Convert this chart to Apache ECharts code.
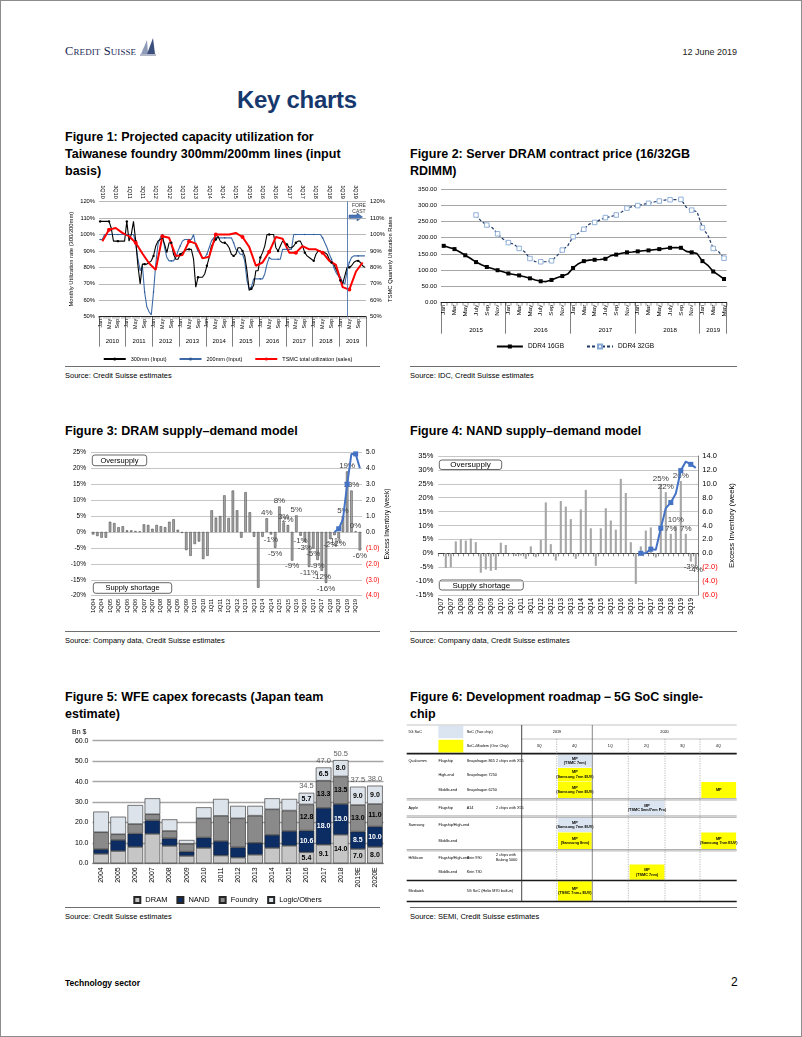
<!DOCTYPE html>
<html><head><meta charset="utf-8">
<script src="https://cdn.jsdelivr.net/npm/echarts@6/dist/echarts.min.js"></script>
<style>
html,body{margin:0;padding:0;background:#fff;}
#page{position:relative;width:802px;height:1037px;box-shadow:inset 0 0 0 1px #8c8c8c;overflow:hidden;font-family:"Liberation Sans",Arial,sans-serif;color:#000;}
.abs{position:absolute;white-space:nowrap;}
.ftitle{position:absolute;font-weight:bold;font-size:12.5px;line-height:17px;color:#000;white-space:nowrap;}
.src{position:absolute;font-size:7.5px;color:#000;white-space:nowrap;}
.rule{position:absolute;height:1px;background:#6e6e6e;}
.chart{position:absolute;}
</style></head>
<body><div id="page">
<div class="abs" style="left:65px;top:44px;font-family:'Liberation Serif',serif;font-size:12.5px;color:#1b2a56;font-variant:small-caps;letter-spacing:0.1px;">Credit Suisse</div>
<svg class="abs" style="left:138px;top:37px" width="20" height="20" viewBox="0 0 20 20">
<path d="M3,17 L9,3 L10,17 Z" fill="#8d9bb8"/><path d="M9,17 L15,1 L17,17 Z" fill="#3c4f7c"/><path d="M2,18 L18,18" stroke="#3c4f7c" stroke-width="0.8"/>
</svg>
<div class="abs" style="right:65px;top:47px;font-size:9px;color:#222;">12 June 2019</div>
<div class="abs" style="left:237px;top:86px;font-size:24px;font-weight:bold;color:#16386d;letter-spacing:-0.3px;">Key charts</div>

<div class="ftitle" style="left:65px;top:129px;">Figure 1: Projected capacity utilization for<br>Taiwanese foundry 300mm/200mm lines (input<br>basis)</div>
<div class="ftitle" style="left:410px;top:146px;">Figure 2: Server DRAM contract price (16/32GB<br>RDIMM)</div>
<div class="ftitle" style="left:65px;top:423px;">Figure 3: DRAM supply–demand model</div>
<div class="ftitle" style="left:410px;top:423px;">Figure 4: NAND supply–demand model</div>
<div class="ftitle" style="left:65px;top:689px;">Figure 5: WFE capex forecasts (Japan team<br>estimate)</div>
<div class="ftitle" style="left:410px;top:689px;">Figure 6: Development roadmap－5G SoC single-<br>chip</div>

<div id="c1" class="chart" style="left:60px;top:180px;width:335px;height:185px;"></div>
<div id="c2" class="chart" style="left:405px;top:180px;width:340px;height:185px;"></div>
<div id="c3" class="chart" style="left:60px;top:445px;width:340px;height:185px;"></div>
<div id="c4" class="chart" style="left:405px;top:445px;width:340px;height:185px;"></div>
<div id="c5" class="chart" style="left:60px;top:728px;width:335px;height:178px;"></div>
<div id="c6" class="chart" style="left:405px;top:723px;width:335px;height:182px;"></div>

<div class="rule" style="left:65px;top:366px;width:315px;"></div>
<div class="rule" style="left:410px;top:366px;width:327px;"></div>
<div class="src" style="left:65px;top:371px;">Source: Credit Suisse estimates</div>
<div class="src" style="left:410px;top:371px;">Source: IDC, Credit Suisse estimates</div>
<div class="rule" style="left:65px;top:631px;width:315px;"></div>
<div class="rule" style="left:410px;top:631px;width:327px;"></div>
<div class="src" style="left:65px;top:636px;">Source: Company data, Credit Suisse estimates</div>
<div class="src" style="left:410px;top:636px;">Source: Company data, Credit Suisse estimates</div>
<div class="rule" style="left:65px;top:907px;width:315px;"></div>
<div class="rule" style="left:410px;top:907px;width:327px;"></div>
<div class="src" style="left:65px;top:912px;">Source: Credit Suisse estimates</div>
<div class="src" style="left:410px;top:912px;">Source: SEMI, Credit Suisse estimates</div>

<div class="abs" style="left:65px;top:978px;font-size:8.5px;font-weight:bold;">Technology sector</div>
<div class="abs" style="left:731px;top:975px;font-size:12px;">2</div>
</div>
<script>
const FONT = '"Liberation Sans", Arial, Helvetica, sans-serif';

// ================= DATA =================
// Figure 1
const fig1Years = ['2010','2011','2012','2013','2014','2015','2016','2017','2018','2019'];
const fig1MonthNames = ['Jan','Feb','Mar','Apr','May','Jun','Jul','Aug','Sep','Oct','Nov','Dec'];
const fig1QuarterNames = ['1Q','2Q','3Q','4Q'];
const util300mm = [
 108,108,108,108,108,104,96,96,96,96,96,96,
 108,96,100,108,96,81,70,82,82,82,83,84,
 87,93,96,97,98,94,89,95,95,88,85,85,
 88,89,90,91,91,91,85,68,74,74,74,76,
 81,86,93,95,97,99,96,95,95,94,92,88,
 87,88,92,92,90,87,78,66,67,69,78,78,
 86,89,93,100,100,100,100,92,90,93,96,95,
 94,92,92,93,95,96,96,93,89,87,86,85,
 84,88,90,90,89,89,88,85,83,82,79,76,
 72,70,75,80,80,81,83,84,84,83,81,80];
const util200mm = [
 97,97,100,100,100,100,100,100,100,100,100,100,
 100,100,100,100,95,85,78,81,65,56,53,51,
 65,82,94,98,100,92,86,84,84,84,86,90,
 93,96,97,97,97,97,100,93,90,88,86,86,
 88,92,96,98,98,98,98,98,98,98,98,98,
 95,91,90,88,88,84,72,67,68,73,73,73,
 73,73,76,82,86,85,85,85,85,85,91,91,
 91,91,91,100,100,100,100,100,100,100,100,100,
 100,100,100,100,98,95,92,88,85,80,77,75,
 74,71,70,78,83,86,87,87,87,87,87,87];
const tsmcQuarterly = [
 96,103,104,101, 99,95,88.5,82.5, 78.5,99,98,87, 87.5,96,94.5,85.5, 86.5,100,100,100,
 101,98.5,92.5,81, 83,89.5,98.5,97.5, 89,89,93,91, 91,89,84,81.5, 68,66.5,77.5,83];
const forecastStartMonth = 'Apr 2019';

// Figure 2
const fig2Years = ['2015','2016','2017','2018','2019'];
const fig2MonthNames = ['Jan','Feb','Mar','Apr','May','Jun','July','Aug','Sep','Oct','Nov','Dec'];
const ddr4_16gb = [
 175,170,165,156,146,136,125,117,110,105,100,95,
 90,87,84,80,75,70,66,65,70,77,82,88,
 107,120,128,131,132,133,135,145,148,152,155,156,
 158,160,161,163,165,167,169,170,169,158,155,151,
 128,115,96,85,73];
const ddr4_32gb = [
 null,null,null,null,null,null,270,250,239,231,212,196,
 185,180,167,157,136,126,126,126,129,144,162,175,
 203,214,226,242,247,255,262,265,270,279,291,296,
 299,303,306,310,313,316,317,317,318,294,285,280,
 231,208,167,157,137];

// Figure 3
const fig3Years = ['04','05','06','07','08','09','10','11','12','13','14','15','16','17','18','19'];
const dramSupplyDemand = [
 -0.8,-1.3,-1.8,-1.8, 3.2,2.8,1.5,1.8, 0.5,0.5,0.3,0.2, 2.4,2.2,1.0,2.2,
 1.8,1.5,3.2,4.0, 0.7,-0.3,-5.7,-7.5, -3.8,-3.0,-8.5,-7.5, 6.8,4.5,5.0,11.5,
 4.4,13.0,6.8,-1.8, 12.5,6.2,-1.5,-17.5, -1.5,4.3,-0.8,-5.0, 8.0,3.0,2.2,-9.0,
 5.2,-1.2,-3.2,-11.0, -5.2,-8.8,-12.2,-16.0, -2.2,-1.0,-2.0,5.0, 19.0,13.0,0.2,-5.8];
const dramExcessInventory = [
 null,null,null,null,null,null,null,null,null,null,null,null,null,null,null,null,
 null,null,null,null,null,null,null,null,null,null,null,null,null,null,null,null,
 null,null,null,null,null,null,null,null,null,null,null,null,null,null,null,null,
 null,null,null,null,null,null,null,null,null,0.0,0.2,0.8,3.0,4.9,4.9,4.0];
const dramLabelFrom = 41;

// Figure 4
const fig4Years = ['07','08','09','10','11','12','13','14','15','16','17','18','19'];
const nandSupplyDemand = [
 0.0,-5.3,-5.0,4.3, 5.0,4.6,5.3,4.0, -7.0,-5.8,-6.3,-6.0, 3.8,3.0,-0.3,-1.0,
 -0.8,-2.0,2.5,-1.4, 4.8,18.3,3.3,-2.6, 18.8,16.8,12.3,-2.0, 15.8,22.8,9.0,-4.5,
 9.0,16.2,11.8,8.5, 26.8,21.7,4.0,-11.0, 2.5,8.2,9.3,-1.5, 25.0,22.0,7.0,10.0,
 26.0,7.0,-3.0,-4.0];
const nandExcessInventory = [
 null,null,null,null,null,null,null,null,null,null,null,null,null,null,null,null,
 null,null,null,null,null,null,null,null,null,null,null,null,null,null,null,null,
 null,null,null,null,null,null,null,null,0.0,0.0,0.6,0.5,3.6,6.5,7.3,8.6,
 11.9,13.2,12.8,12.3];
const nandLabelFrom = 44;

// Figure 5
const wfeYears = ['2004','2005','2006','2007','2008','2009','2010','2011','2012','2013','2014','2015','2016','2017','2018','2019E','2020E'];
const wfeDram    = [4.6,6.0,8.0,14.4,8.5,3.6,7.5,3.8,2.8,4.2,7.5,8.6,5.4,9.1,14.0,7.0,8.0];
const wfeNand    = [2.3,5.4,6.5,6.6,3.7,2.1,5.1,7.1,5.0,5.8,6.4,7.2,10.6,18.0,15.0,8.5,10.0];
const wfeFoundry = [8.3,2.8,4.7,3.0,3.6,3.8,9.4,12.3,14.2,13.3,12.5,10.0,12.8,13.3,13.5,13.0,11.0];
const wfeLogic   = [10.1,8.6,9.3,7.8,5.7,1.9,5.4,8.3,6.1,4.8,5.4,5.7,5.7,6.5,8.0,9.0,9.0];
const wfeTotals  = [null,null,null,null,null,null,null,null,null,null,null,null,34.5,47.0,50.5,37.5,38.0];
const wfeLabelFrom = 12;

// Figure 6
const roadmapYears = [['2019',0,2],['2020',2,6]];
const roadmapQuarters = ['3Q','4Q','1Q','2Q','3Q','4Q'];
const roadmapKey = [['5G SoC','SoC (Two chip)','two'],['','SoC+Modem (One Chip)','one']];
const roadmapRows = [
 ['Qualcomm','Flagship','Snapdragon 865','2 chips with X55'],
 ['','High-end','Snapdragon 7250',''],
 ['','Middle-end','Snapdragon 6250',''],
 ['Apple','Flagship','A14','2 chips with X55'],
 ['Samsung','Flagship/High-end','',''],
 ['','Middle-end','',''],
 ['HiSilicon','Flagship/High-end','Kirin 990','2 chips with\nBalong 5000'],
 ['','Middle-end','Kirin 730',''],
 ['Mediatek','','5G SoC (Helio M70 built-in)','']];
const roadmapMP = [
 [0,1,'two','MP\n(TSMC 7nm)'],
 [1,1,'one','MP\n(Samsung 7nm EUV)'],
 [2,1,'one','MP\n(Samsung 7nm EUV)'],
 [2,5,'one','MP'],
 [3,3,'two','MP\n(TSMC 5nm/7nm Pro)'],
 [4,1,'two','MP\n(Samsung 7nm EUV)'],
 [5,1,'one','MP\n(Samsung 8nm)'],
 [5,5,'one','MP\n(Samsung 7nm EUV)'],
 [7,3,'one','MP\n(TSMC 7nm)'],
 [8,1,'one','MP\n(TSMC 7nm+ EUV)']];

// ================= HELPERS =================
function init(id){ return echarts.init(document.getElementById(id), null, {renderer:'canvas'}); }
const GRIDLINE = {lineStyle:{color:'#a6a6a6', width:0.8}};

// ================= FIGURE 1 =================
(function(){
  const months = [];
  fig1Years.forEach(y => fig1MonthNames.forEach(m => months.push(m + ' ' + y)));
  const quarters = [];
  fig1Years.forEach(y => fig1QuarterNames.forEach(q => quarters.push(q + y.slice(2))));
  const tsmcMonthly = months.map((_, i) => (i % 3 === 1 ? tsmcQuarterly[(i - 1) / 3] : null));
  const c = init('c1');
  c.setOption({
    animation:false,
    textStyle:{fontFamily:FONT},
    grid:{left:39, right:29, top:21.7, bottom:48.3, containLabel:false, outerBoundsMode:'none'},
    legend:{top:171, left:'center', itemWidth:22, itemHeight:4, itemGap:12,
      textStyle:{fontSize:5.5, color:'#000', fontFamily:FONT},
      data:['300mm (Input)','200mm (Input)','TSMC total utilization (sales)']},
    xAxis:[
      {type:'category', data:months, position:'bottom',
       axisLine:{lineStyle:{color:'#000', width:0.8}},
       axisTick:{show:true, interval:0, length:2, lineStyle:{color:'#000', width:0.4}},
       axisLabel:{interval:3, rotate:90, fontSize:5.5, margin:2, color:'#000', fontFamily:FONT, formatter:v => v.split(' ')[0]},
       splitLine:{show:false}},
      {type:'category', data:quarters, position:'top',
       axisLine:{show:false}, axisTick:{show:false},
       axisLabel:{interval:1, rotate:90, fontSize:5.5, margin:3, color:'#000', fontFamily:FONT}},
      {type:'category', data:fig1Years, position:'bottom',
       axisLine:{show:false},
       axisTick:{show:true, interval:0, length:30, lineStyle:{color:'#000', width:0.5}},
       axisLabel:{interval:0, fontSize:6, margin:22, color:'#000', fontFamily:FONT}}
    ],
    yAxis:[
      {type:'value', min:50, max:120, interval:10,
       axisLabel:{formatter:'{value}%', fontSize:5.8, color:'#000', margin:4, fontFamily:FONT},
       splitLine:GRIDLINE, axisLine:{show:false}, axisTick:{show:false},
       name:'Monthly Utilization rate (300/200mm)', nameLocation:'middle', nameGap:25, nameRotate:90, nameMoveOverlap:false,
       nameTextStyle:{fontSize:5.8, color:'#000', fontFamily:FONT}},
      {type:'value', min:50, max:120, interval:10, position:'right',
       axisLabel:{formatter:'{value}%', fontSize:5.8, color:'#000', margin:4, fontFamily:FONT},
       splitLine:{show:false}, axisLine:{show:false}, axisTick:{show:false},
       name:'TSMC Quarterly Utilization Rates', nameLocation:'middle', nameGap:21, nameRotate:90, nameMoveOverlap:false,
       nameTextStyle:{fontSize:5.8, color:'#000', fontFamily:FONT}}
    ],
    series:[
      {name:'200mm (Input)', type:'line', data:util200mm, symbol:'circle', symbolSize:1.6,
       itemStyle:{color:'#2f5b96'}, lineStyle:{color:'#3d6aa6', width:1.1}},
      {name:'300mm (Input)', type:'line', data:util300mm, symbol:'circle', symbolSize:2.4,
       itemStyle:{color:'#000'}, lineStyle:{color:'#000', width:1.1},
       markLine:{silent:true, symbol:'none', label:{show:false},
         lineStyle:{color:'#4f76b0', width:0.9, type:'solid'}, data:[{xAxis:forecastStartMonth}]}},
      {name:'TSMC total utilization (sales)', type:'line', data:tsmcMonthly, connectNulls:true, yAxisIndex:1,
       symbol:'circle', symbolSize:4, itemStyle:{color:'#ff0000'}, lineStyle:{color:'#ff0000', width:2}}
    ],
    graphic:[
      {type:'text', x:299, y:26, style:{text:'FORE', fontSize:5, fontFamily:FONT, fill:'#333', align:'center', verticalAlign:'middle'}},
      {type:'text', x:299, y:31.5, style:{text:'CAST', fontSize:5, fontFamily:FONT, fill:'#333', align:'center', verticalAlign:'middle'}},
      {type:'polygon', shape:{points:[[289,35],[297,35],[297,33],[302.5,37],[297,41],[297,39],[289,39]]},
       style:{fill:'#4a74b8', stroke:'#2d4f86', lineWidth:0.5}}
    ]
  });
})();

// ================= FIGURE 2 =================
(function(){
  const months = [];
  const yearOf = [];
  fig2Years.forEach(y => fig2MonthNames.forEach(m => { if (months.length < ddr4_16gb.length) { months.push(m + ' ' + y); yearOf.push(y); } }));
  const yearMid = {};
  fig2Years.forEach(y => {
    const idx = yearOf.map((v,i)=>v===y?i:-1).filter(i=>i>=0);
    yearMid[Math.floor((idx[0] + idx[idx.length-1] + 1) / 2)] = y;
  });
  const c = init('c2');
  c.setOption({
    animation:false,
    textStyle:{fontFamily:FONT},
    grid:{left:36, right:18.3, top:9, bottom:62.3, containLabel:false, outerBoundsMode:'none'},
    legend:{top:158, left:'center', itemWidth:26, itemHeight:5, itemGap:22,
      textStyle:{fontSize:6.5, color:'#000', fontFamily:FONT}, data:['DDR4 16GB','DDR4 32GB']},
    xAxis:[
      {type:'category', data:months, position:'bottom',
       axisLine:{lineStyle:{color:'#000', width:0.8}},
       axisTick:{show:true, interval:0, length:3, lineStyle:{color:'#000', width:0.4}},
       axisLabel:{interval:1, rotate:90, fontSize:6.2, margin:2, color:'#000', fontFamily:FONT, formatter:v => v.split(' ')[0]}},
      {type:'category', data:months, position:'bottom',
       axisLine:{show:false},
       axisTick:{show:true, interval:(i) => i % 12 === 0, length:31, lineStyle:{color:'#000', width:0.5}},
       axisLabel:{interval:(i) => yearMid[i] !== undefined, fontSize:6.2, margin:25, color:'#000', fontFamily:FONT,
         formatter:(v, i) => yearMid[i] || ''}}
    ],
    yAxis:{type:'value', min:0, max:350, interval:50,
      axisLabel:{formatter:v => v.toFixed(2), fontSize:6.2, color:'#000', margin:4, fontFamily:FONT},
      splitLine:{lineStyle:{color:'#a6a6a6', width:1}}, axisLine:{show:false}, axisTick:{show:false}},
    series:[
      {name:'DDR4 16GB', type:'line', data:ddr4_16gb, symbol:'rect', symbolSize:4,
       itemStyle:{color:'#000'}, lineStyle:{color:'#000', width:1.6}},
      {name:'DDR4 32GB', type:'line', data:ddr4_32gb, symbol:'rect', symbolSize:4.5,
       itemStyle:{color:'#fff', borderColor:'#86a8d4', borderWidth:0.9},
       lineStyle:{color:'#1f3864', width:1.2, type:[3,2]}}
    ]
  });
})();

// ================= FIGURES 3 & 4 =================
function negFmt(v){ return v < 0 ? '{n|(' + Math.abs(v).toFixed(1) + ')}' : v.toFixed(1); }
function sdChart(id, o){
  const quarters = [];
  o.years.forEach(y => ['1Q','2Q','3Q','4Q'].forEach(q => quarters.push(q + y)));
  const barData = o.bars.map((v, i) => ({value:v,
    label:{show:i >= o.labelFrom, position: v >= 0 ? 'top' : 'bottom'}}));
  const c = init(id);
  const xAxes = [
    {type:'category', data:quarters, position:'bottom', axisLine:{show:false, onZero:false}, axisTick:{show:false},
     axisLabel:{interval:1, rotate:90, fontSize:o.xFont, margin:3, color:'#000', fontFamily:FONT}}
  ];
  if (o.zeroAxis) xAxes.push({type:'category', data:quarters, position:'bottom',
     axisLine:{show:true, onZero:true, lineStyle:{color:'#404040', width:1}},
     axisTick:{show:true, interval:0, length:3, lineStyle:{color:'#404040', width:0.6}}, axisLabel:{show:false}});
  c.setOption({
    animation:false,
    textStyle:{fontFamily:FONT},
    grid:Object.assign({containLabel:false, outerBoundsMode:'none'}, o.grid),
    xAxis:xAxes,
    yAxis:[
      {type:'value', min:o.lmin, max:o.lmax, interval:o.lint,
       axisLabel:{formatter:'{value}%', fontSize:o.yFont, color:'#000', margin:5, fontFamily:FONT},
       splitLine:{lineStyle:{color:'#bfbfbf', width:0.9}}, axisLine:{show:false}, axisTick:{show:false}},
      {type:'value', min:o.rmin, max:o.rmax, interval:o.rint, position:'right',
       axisLabel:{formatter:negFmt, fontSize:o.yFont, color:'#000', margin:4, fontFamily:FONT,
         rich:{n:{color:'#ff0000', fontSize:o.yFont, fontFamily:FONT}}},
       splitLine:{show:false}, axisLine:{show:o.rightLine, lineStyle:{color:'#7f7f7f'}}, axisTick:{show:false},
       name:'Excess Inventory (week)', nameLocation:'middle', nameGap:o.nameGap, nameRotate:90, nameMoveOverlap:false,
       nameTextStyle:{fontSize:o.nameFont, color:'#000', fontFamily:FONT}}
    ],
    series:[
      {type:'bar', data:barData, barCategoryGap:o.gap, xAxisIndex:0,
       itemStyle:{color:o.barColor, borderColor:o.barBorder, borderWidth:o.barBorderW},
       label:{formatter:p => Math.round(p.value) + '%', fontSize:o.lblFont, color:'#404040', distance:1.5, fontFamily:FONT}},
      {type:'line', data:o.line, yAxisIndex:1, xAxisIndex:0, symbol:'rect', symbolSize:5,
       itemStyle:{color:'#4472c4'}, lineStyle:{color:'#4472c4', width:2}, z:5}
    ],
    graphic:o.boxes.map(b => ({type:'group', x:b[0], y:b[1], children:[
      {type:'rect', shape:{x:0, y:0, width:b[2], height:b[3], r:2.5}, style:{fill:'#fff', stroke:'#404040', lineWidth:0.8}},
      {type:'text', x:b[2]/2, y:b[3]/2 + 0.3, style:{text:b[4], fontSize:o.boxFont, fontFamily:FONT, fill:'#000', align:'center', verticalAlign:'middle'}}
    ]}))
  });
}
sdChart('c3', {years:fig3Years, bars:dramSupplyDemand, line:dramExcessInventory, labelFrom:dramLabelFrom,
  grid:{left:31, right:38, top:7.3, bottom:34.3}, lmin:-20, lmax:25, lint:5, rmin:-4, rmax:5, rint:1,
  xFont:5.8, yFont:6.5, lblFont:8, nameFont:6.5, nameGap:22, gap:'42%', barColor:'#a6a6a6', barBorder:'#3a3a3a', barBorderW:0.5,
  zeroAxis:false, rightLine:false, boxFont:7.5,
  boxes:[[32.3,10,54.4,10.7,'Oversupply'],[33.3,137.7,78.4,10.6,'Supply shortage']]});
sdChart('c4', {years:fig4Years, bars:nandSupplyDemand, line:nandExcessInventory, labelFrom:nandLabelFrom,
  grid:{left:33.3, right:46.7, top:11, bottom:35}, lmin:-15, lmax:35, lint:5, rmin:-6, rmax:14, rint:2,
  xFont:6.8, yFont:7.5, lblFont:8, nameFont:7.8, nameGap:30, gap:'58%', barColor:'#a6a6a6', barBorder:'#a6a6a6', barBorderW:0,
  zeroAxis:true, rightLine:true, boxFont:8,
  boxes:[[34.3,15,62.4,9.5,'Oversupply'],[34.3,135,84,10,'Supply shortage']]});

// ================= FIGURE 5 =================
(function(){
  const c = init('c5');
  const segLabel = (color) => ({show:true, position:'inside', fontSize:7, fontWeight:'bold', color:color, fontFamily:FONT,
     formatter:p => (p.dataIndex >= wfeLabelFrom ? p.value.toFixed(1) : '')});
  const seg = (name, data, fill, lblColor) => ({name, type:'bar', stack:'wfe', data, barCategoryGap:'9%',
     itemStyle:{color:fill, borderColor:'#262626', borderWidth:0.6}, label:segLabel(lblColor)});
  c.setOption({
    animation:false,
    textStyle:{fontFamily:FONT},
    grid:{left:32.5, right:11.5, top:12.7, bottom:42.7, containLabel:false, outerBoundsMode:'none'},
    legend:{top:163, left:'center', itemWidth:6, itemHeight:6, itemGap:9, icon:'rect',
      textStyle:{fontSize:7.5, color:'#000', fontFamily:FONT}, data:['DRAM','NAND','Foundry','Logic/Others']},
    xAxis:{type:'category', data:wfeYears, axisLine:{lineStyle:{color:'#7f7f7f', width:0.8}}, axisTick:{show:false},
      axisLabel:{interval:0, rotate:90, fontSize:7, margin:4, color:'#000', fontFamily:FONT}},
    yAxis:{type:'value', min:0, max:60, interval:10,
      axisLabel:{formatter:v => v.toFixed(1), fontSize:7, color:'#000', margin:4, fontFamily:FONT},
      splitLine:{lineStyle:{color:'#a6a6a6', width:1.4}}, axisLine:{show:false}, axisTick:{show:false},
      name:'Bn $', nameLocation:'end', nameGap:5, nameMoveOverlap:false, nameTextStyle:{fontSize:7, color:'#000', align:'right', padding:[0,6,0,0], fontFamily:FONT}},
    series:[
      seg('DRAM', wfeDram, '#c6c6c6', '#000'),
      seg('NAND', wfeNand, '#0c2d63', '#fff'),
      seg('Foundry', wfeFoundry, '#8a8a8a', '#000'),
      seg('Logic/Others', wfeLogic, '#dde3eb', '#000'),
      {name:'Total', type:'scatter', data:wfeTotals, symbolSize:1, itemStyle:{color:'rgba(0,0,0,0)'},
       label:{show:true, position:'top', distance:2, fontSize:7.5, color:'#333', fontFamily:FONT, formatter:p => p.value.toFixed(1)}}
    ]
  });
})();

// ================= FIGURE 6 =================
(function(){
  const COLS = [0, 30, 56.6, 86.6, 115, 150, 185.6, 221.6, 258.3, 293.3, 330];
  const TEXT_X = [1.7, 31.7, 60, 89.3];
  const HEAD = [[0,14],[14,28.3]];
  const ROWS = [[29.3,42.7],[42.7,56.7],[56.7,73.3],[75,90.7],[92.3,107.3],[107.3,124.3],[126,139.3],[139.3,155],[156,176]];
  const FILL = {two:'#dbe5f1', one:'#ffff00'};
  const items = [];
  const F = 3.8;
  roadmapKey.forEach((k, r) => {
    const [y0, y1] = HEAD[r];
    items.push({k:'rect', x0:COLS[1]+1.7, y0:y0+0.8, x1:COLS[2], y1:y1-0.8, fill:FILL[k[2]]});
    if (k[0]) items.push({k:'text', x:TEXT_X[0], y:(y0+y1)/2, text:k[0], align:'left'});
    items.push({k:'text', x:TEXT_X[2], y:(y0+y1)/2, text:k[1], align:'left'});
  });
  roadmapYears.forEach(yr => items.push({k:'text', x:(COLS[4+yr[1]] + COLS[4+yr[2]]) / 2, y:(HEAD[0][0]+HEAD[0][1])/2, text:yr[0], align:'center'}));
  roadmapQuarters.forEach((q, i) => items.push({k:'text', x:(COLS[4+i] + COLS[5+i]) / 2, y:(HEAD[1][0]+HEAD[1][1])/2, text:q, align:'center'}));
  roadmapMP.forEach(m => {
    const [y0, y1] = ROWS[m[0]];
    items.push({k:'rect', x0:COLS[4+m[1]]+1.3, y0:y0+0.2, x1:COLS[5+m[1]]-0.6, y1:y1-0.2, fill:FILL[m[2]]});
    items.push({k:'text', x:(COLS[4+m[1]] + COLS[5+m[1]]) / 2 + 0.4, y:(y0+y1)/2, text:m[3], align:'center', bold:true});
  });
  roadmapRows.forEach((row, r) => {
    const [y0, y1] = ROWS[r];
    row.forEach((t, ci) => { if (t) items.push({k:'text', x:TEXT_X[ci], y:(y0+y1)/2, text:t, align:'left'}); });
  });
  const H = (y, c, w, x0 = 0, x1 = 330) => items.push({k:'line', x0, y0:y, x1, y1:y, color:c, w});
  H(0, '#9a9a9a', 0.6);
  H(14, '#9a9a9a', 0.6, COLS[4], COLS[10]);
  H(28.6, '#1a1a1a', 1.6);
  [[73.6,75],[90.9,92.3],[124.5,125.9]].forEach(p => { H(p[0], '#8c8c8c', 0.7); H(p[1], '#8c8c8c', 0.7); });
  H(155.5, '#1a1a1a', 1.6);
  H(176.5, '#1a1a1a', 1.6);
  items.push({k:'line', x0:COLS[4], y0:0, x1:COLS[4], y1:176.5, color:'#333', w:0.9});
  items.push({k:'line', x0:COLS[6], y0:0, x1:COLS[6], y1:176.5, color:'#555', w:0.7});
  [5,7,8,9].forEach(ci => items.push({k:'line', x0:COLS[ci], y0:14, x1:COLS[ci], y1:176.5, color:'#8c8c8c', w:0.6, dash:[1.2,1.2]}));

  const c = init('c6');
  c.setOption({
    animation:false,
    grid:{left:1.7, top:2, width:330, height:176.5, containLabel:false, outerBoundsMode:'none'},
    xAxis:{type:'value', min:0, max:330, show:false},
    yAxis:{type:'value', min:0, max:176.5, inverse:true, show:false},
    series:[{type:'custom', clip:false, silent:true,
      data:items.map(t => [t.x0 !== undefined ? t.x0 : t.x, t.y0 !== undefined ? t.y0 : t.y]),
      renderItem:(params, api) => {
        const t = items[params.dataIndex];
        if (t.k === 'rect') {
          const a = api.coord([t.x0, t.y0]), b = api.coord([t.x1, t.y1]);
          return {type:'rect', shape:{x:a[0], y:a[1], width:b[0]-a[0], height:b[1]-a[1]}, style:{fill:t.fill}};
        }
        if (t.k === 'line') {
          const a = api.coord([t.x0, t.y0]), b = api.coord([t.x1, t.y1]);
          return {type:'line', shape:{x1:a[0], y1:a[1], x2:b[0], y2:b[1]}, style:{stroke:t.color, lineWidth:t.w, lineDash:t.dash || null}};
        }
        const p = api.coord([t.x, t.y]);
        return {type:'text', x:p[0], y:p[1], style:{text:t.text, fontSize:F, fontFamily:FONT, fontWeight:t.bold ? 'bold' : 'normal',
          fill:'#000', align:t.align, verticalAlign:'middle', lineHeight:4.6}};
      }}]
  });
})();
</script>
</body></html>
